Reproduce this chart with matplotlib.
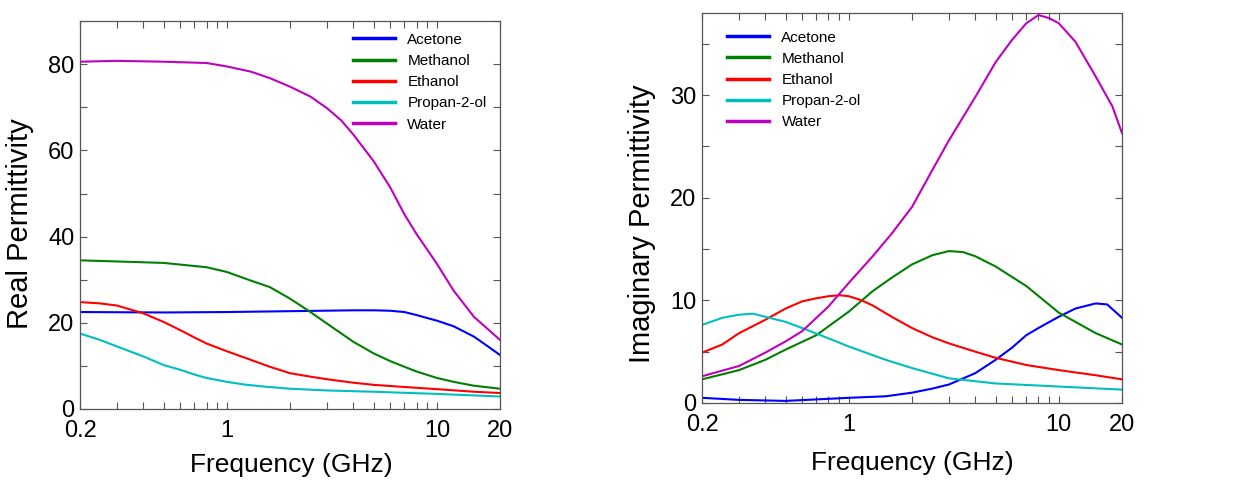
import matplotlib
matplotlib.use("Agg")
import matplotlib.pyplot as plt
from matplotlib.ticker import FixedLocator, NullFormatter, MultipleLocator

plt.rcParams['font.family'] = ['Liberation Sans', 'DejaVu Sans']

names = ["Acetone", "Methanol", "Ethanol", "Propan-2-ol", "Water"]
colors = ["#0000ff", "#008000", "#ff0000", "#00bfbf", "#bf00bf"]

# ---- Real permittivity (left) ----
f_ace_re = [0.2, 0.5, 1, 2, 4, 5, 6, 7, 8, 9, 10, 12, 15, 18, 20]
ace_re = [22.5, 22.4, 22.5, 22.7, 22.9, 22.9, 22.8, 22.5, 21.8, 21.1, 20.5, 19.2, 16.8, 14.1, 12.5]

f_met_re = [0.2, 0.5, 0.8, 1, 1.3, 1.6, 2, 2.5, 3, 4, 5, 6, 7, 8, 10, 12, 15, 20]
met_re = [34.5, 33.9, 32.9, 31.8, 29.8, 28.3, 25.6, 22.5, 19.8, 15.6, 12.9, 11.1, 9.8, 8.7, 7.2, 6.3, 5.4, 4.7]

f_eth_re = [0.2, 0.25, 0.3, 0.4, 0.5, 0.6, 0.7, 0.8, 1, 1.3, 1.6, 2, 2.5, 3, 4, 5, 7, 10, 15, 20]
eth_re = [24.8, 24.5, 24.0, 22.2, 20.2, 18.3, 16.6, 15.2, 13.4, 11.4, 9.8, 8.3, 7.5, 6.9, 6.1, 5.6, 5.1, 4.6, 4.0, 3.7]

f_ipa_re = [0.2, 0.25, 0.3, 0.4, 0.5, 0.6, 0.7, 0.8, 1, 1.2, 1.5, 2, 3, 5, 10, 20]
ipa_re = [17.5, 16.0, 14.5, 12.2, 10.2, 9.1, 8.0, 7.2, 6.3, 5.7, 5.2, 4.7, 4.3, 4.0, 3.5, 2.9]

f_wat_re = [0.2, 0.3, 0.5, 0.8, 1, 1.3, 1.6, 2, 2.5, 3, 3.5, 4, 5, 6, 7, 8, 10, 12, 15, 20]
wat_re = [80.6, 80.8, 80.6, 80.3, 79.5, 78.3, 76.8, 74.8, 72.5, 69.8, 67.0, 63.7, 57.5, 51.4, 45.2, 40.6, 33.7, 27.5, 21.4, 16.0]

# ---- Imaginary permittivity (right) ----
f_ace_im = [0.2, 0.3, 0.5, 1, 1.5, 2, 2.5, 3, 4, 5, 6, 7, 8, 10, 12, 15, 17, 20]
ace_im = [0.5, 0.3, 0.2, 0.5, 0.65, 1.0, 1.4, 1.8, 2.9, 4.2, 5.4, 6.6, 7.3, 8.4, 9.2, 9.7, 9.6, 8.3]

f_met_im = [0.2, 0.3, 0.4, 0.5, 0.7, 1, 1.3, 1.6, 2, 2.5, 3, 3.5, 4, 5, 7, 10, 15, 20]
met_im = [2.3, 3.2, 4.2, 5.2, 6.6, 8.9, 10.9, 12.2, 13.5, 14.4, 14.8, 14.7, 14.3, 13.3, 11.4, 8.8, 6.8, 5.7]

f_eth_im = [0.2, 0.25, 0.3, 0.4, 0.5, 0.6, 0.7, 0.8, 0.9, 1, 1.15, 1.3, 1.6, 2, 2.5, 3, 4, 5, 7, 10, 15, 20]
eth_im = [4.9, 5.7, 6.8, 8.1, 9.2, 9.9, 10.2, 10.4, 10.5, 10.4, 10.0, 9.5, 8.4, 7.3, 6.4, 5.8, 5.0, 4.4, 3.7, 3.2, 2.7, 2.3]

f_ipa_im = [0.2, 0.25, 0.3, 0.35, 0.4, 0.5, 0.6, 0.8, 1, 1.5, 2, 3, 5, 10, 20]
ipa_im = [7.6, 8.3, 8.6, 8.7, 8.4, 7.9, 7.3, 6.3, 5.5, 4.2, 3.4, 2.4, 1.9, 1.6, 1.3]

f_wat_im = [0.2, 0.3, 0.4, 0.5, 0.6, 0.8, 1, 1.3, 1.6, 2, 2.5, 3, 4, 5, 6, 7, 8, 9, 10, 12, 15, 18, 20]
wat_im = [2.6, 3.6, 4.9, 6.0, 7.0, 9.4, 11.7, 14.3, 16.5, 19.1, 22.7, 25.6, 29.8, 33.2, 35.4, 37.0, 37.8, 37.5, 37.0, 35.2, 31.8, 28.9, 26.3]

real_series = [(f_ace_re, ace_re), (f_met_re, met_re), (f_eth_re, eth_re),
               (f_ipa_re, ipa_re), (f_wat_re, wat_re)]
imag_series = [(f_ace_im, ace_im), (f_met_im, met_im), (f_eth_im, eth_im),
               (f_ipa_im, ipa_im), (f_wat_im, wat_im)]

x_major = [0.2, 1, 10, 20]
x_major_labels = ["0.2", "1", "10", "20"]
x_minor = [0.3, 0.4, 0.5, 0.6, 0.7, 0.8, 0.9, 2, 3, 4, 5, 6, 7, 8, 9]

fig = plt.figure(figsize=(12.41, 4.82), dpi=100)
ax1 = fig.add_axes([0.0645, 0.1515, 0.3385, 0.8045])
ax2 = fig.add_axes([0.5657, 0.164, 0.3384, 0.809])

def style(ax, ylim, ymajor, yminor, ylabel):
    ax.set_xscale('log')
    ax.set_xlim(0.2, 20)
    ax.set_ylim(*ylim)
    ax.xaxis.set_major_locator(FixedLocator(x_major))
    ax.set_xticklabels(x_major_labels)
    ax.xaxis.set_minor_locator(FixedLocator(x_minor))
    ax.xaxis.set_minor_formatter(NullFormatter())
    ax.yaxis.set_major_locator(MultipleLocator(ymajor))
    ax.yaxis.set_minor_locator(MultipleLocator(yminor))
    ax.tick_params(which='both', direction='in', top=True, right=True,
                   colors='#555555', labelcolor='black', labelsize=17)
    ax.tick_params(which='major', length=5, width=0.8)
    ax.tick_params(which='minor', length=5, width=0.8)
    ax.tick_params(axis='x', pad=8)
    ax.tick_params(axis='y', pad=4)
    for s in ax.spines.values():
        s.set_color('#555555')
        s.set_linewidth(0.9)
    ax.set_xlabel("Frequency (GHz)", fontsize=19, va='center')
    ax.set_ylabel(ylabel, fontsize=21, va='center')

for (f, v), n, c in zip(real_series, names, colors):
    ax1.plot(f, v, color=c, lw=1.5, label=n)
for (f, v), n, c in zip(imag_series, names, colors):
    ax2.plot(f, v, color=c, lw=1.5, label=n)

style(ax1, (0, 90), 20, 10, "Real Permittivity")
style(ax2, (0, 38), 10, 5, "Imaginary Permittivity")

ax1.xaxis.set_label_coords(0.502, -0.144)
ax1.yaxis.set_label_coords(-0.143, 0.479)
ax2.xaxis.set_label_coords(0.5, -0.154)
ax2.yaxis.set_label_coords(-0.143, 0.46)

leg_kw = dict(frameon=False, fontsize=11, handlelength=2.75, handletextpad=0.8,
              labelspacing=0.47, borderpad=0, borderaxespad=0, loc='upper left')
l1 = ax1.legend(bbox_to_anchor=(0.65, 0.97), **leg_kw)
l2 = ax2.legend(bbox_to_anchor=(0.06, 0.955), **leg_kw)
for l in (l1, l2):
    for h in l.get_lines():
        h.set_linewidth(2.5)

fig.savefig("out.png", dpi=100)
